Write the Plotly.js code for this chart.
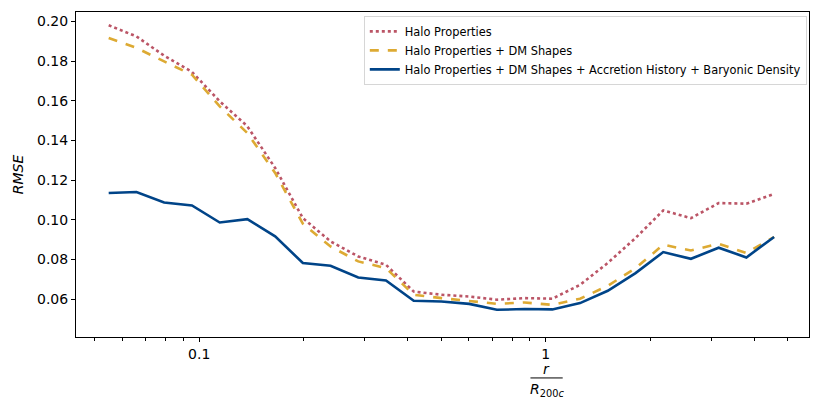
<!DOCTYPE html>
<html>
<head>
<meta charset="utf-8">
<script src="https://cdn.plot.ly/plotly-3.0.1.min.js"></script>
<style>
  body { margin: 0; background: #fff; }
  #graph { width: 822px; height: 411px; }
</style>
</head>
<body>
<div id="graph"></div>
<script>
// radial bin centres, r / R200c
var radius = [0.0548, 0.0659, 0.0792, 0.0953, 0.1146, 0.1377, 0.1656, 0.1991, 0.2393,
              0.2877, 0.3459, 0.4159, 0.5000, 0.6012, 0.7228, 0.8690, 1.0447, 1.256,
              1.510, 1.816, 2.183, 2.624, 3.155, 3.793, 4.560]

var haloProps = [0.1980, 0.1924, 0.1827, 0.1745, 0.1597, 0.1471, 0.1261, 0.1008, 0.0891,
                 0.0815, 0.0773, 0.0638, 0.0622, 0.0613, 0.0597, 0.0605, 0.0602, 0.0672,
                 0.0782, 0.0908, 0.1047, 0.1008, 0.1084, 0.1081, 0.1130]

var haloDm = [0.1916, 0.1866, 0.1798, 0.1731, 0.1571, 0.1437, 0.1236, 0.0980, 0.0865,
              0.0790, 0.0756, 0.0622, 0.0605, 0.0592, 0.0576, 0.0583, 0.0571, 0.0602,
              0.0667, 0.0756, 0.0874, 0.0845, 0.0879, 0.0832, 0.0913]

var allFeatures = [0.1135, 0.1140, 0.1087, 0.1072, 0.0986, 0.1003, 0.0916, 0.0782, 0.0768,
                   0.0709, 0.0694, 0.0592, 0.0588, 0.0576, 0.0546, 0.0550, 0.0548, 0.0580,
                   0.0642, 0.0731, 0.0837, 0.0803, 0.0859, 0.0810, 0.0913]

var names = ["Halo Properties",
             "Halo Properties + DM Shapes",
             "Halo Properties + DM Shapes + Accretion History + Baryonic Density"]

var yTicks = [0.06, 0.08, 0.10, 0.12, 0.14, 0.16, 0.18, 0.20]
var xTicks = [0.1, 1]
var xTickText = ["0.1", "1"]
var xMinor = [0.05, 0.06, 0.07, 0.08, 0.09, 0.2, 0.3, 0.4, 0.5, 0.6, 0.7, 0.8, 0.9, 2, 3, 4, 5]

var font = "DejaVu Sans, sans-serif"

var traces = [
    {x: radius, y: haloProps, name: names[0], mode: 'lines',
     line: {color: '#BB5566', width: 2.6, dash: 'dot'}},
    {x: radius, y: haloDm, name: names[1], mode: 'lines',
     line: {color: '#DDAA33', width: 2.6, dash: 'dash'}},
    {x: radius, y: allFeatures, name: names[2], mode: 'lines',
     line: {color: '#004488', width: 2.6}}
]

var layout = {
    width: 822, height: 411,
    margin: {l: 76, r: 13, t: 12, b: 74},
    paper_bgcolor: '#fff', plot_bgcolor: '#fff',
    font: {family: font, color: '#000', size: 14},
    showlegend: true,
    legend: {x: 0.997, y: 0.988, xanchor: 'right', yanchor: 'top',
             bgcolor: 'rgba(255,255,255,0.8)', bordercolor: '#d6d6d6', borderwidth: 1,
             font: {size: 11.4}, tracegroupgap: 0, itemwidth: 30},
    xaxis: {type: 'log', range: [Math.log10(0.0441), Math.log10(5.75)],
            tickmode: 'array', tickvals: xTicks, ticktext: xTickText,
            ticks: 'outside', ticklen: 4, tickcolor: '#000',
            minor: {tickmode: 'array', tickvals: xMinor, ticks: 'outside', ticklen: 2.5, tickcolor: '#000', showgrid: false},
            showline: true, linecolor: '#000', linewidth: 1, mirror: true,
            showgrid: false, zeroline: false, tickfont: {size: 14}},
    yaxis: {range: [0.0409, 0.2047], tickmode: 'array', tickvals: yTicks,
            tickformat: '.2f', ticks: 'outside', ticklen: 4, tickcolor: '#000',
            showline: true, linecolor: '#000', linewidth: 1, mirror: true,
            showgrid: false, zeroline: false, tickfont: {size: 14},
            title: {text: '<i>RMSE</i>', font: {size: 14}, standoff: 10}},
    annotations: [
        {xref: 'paper', yref: 'paper', x: 0.642, y: -0.097, yanchor: 'middle', showarrow: false,
         text: '<i>r</i>', font: {size: 14}},
        {xref: 'paper', yref: 'paper', x: 0.642, y: -0.162, yanchor: 'middle', showarrow: false,
         text: '<i>R</i><sub>200<i>c</i></sub>', font: {size: 14}}
    ],
    shapes: [
        {type: 'line', xref: 'paper', yref: 'paper', x0: 0.620, x1: 0.664, y0: -0.126, y1: -0.126,
         line: {color: '#000', width: 1}}
    ]
}

Plotly.newPlot("graph", traces, layout, {displayModeBar: false, staticPlot: true})
</script>
</body>
</html>
